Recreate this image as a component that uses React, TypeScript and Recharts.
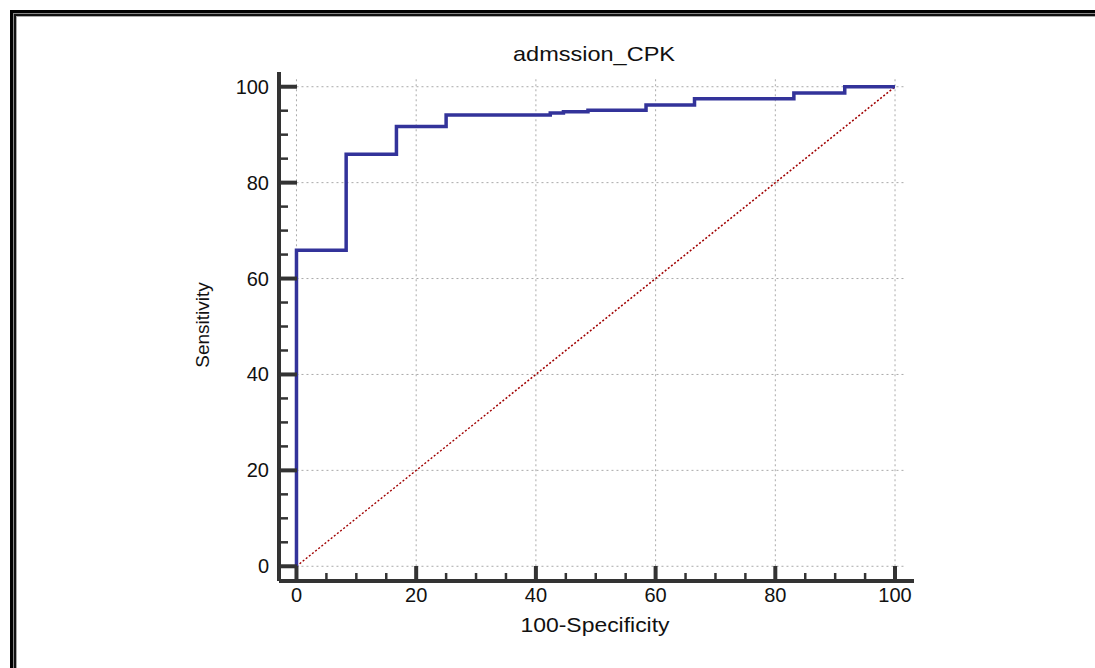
import { LineChart, Line, XAxis, YAxis, ReferenceLine } from 'recharts';

// ROC curve corners (100-Specificity, Sensitivity)
const rocFpr = [0, 0, 8.3, 16.7, 25, 42.4, 44.6, 48.7, 58.4, 66.5, 83.1, 91.6, 100];
const rocSens = [0, 65.9, 85.9, 91.7, 94.1, 94.5, 94.8, 95.1, 96.2, 97.5, 98.7, 100, 100];
const diagFpr = [0, 100];
const diagSens = [0, 100];
const tickValues = [0, 5, 10, 15, 20, 25, 30, 35, 40, 45, 50, 55, 60, 65, 70, 75, 80, 85, 90, 95, 100];
const gridValues = [0, 20, 40, 60, 80, 100];

const rocData = rocFpr.map((x, i) => ({ x, y: rocSens[i] }));
const diagData = diagFpr.map((x, i) => ({ x, y: diagSens[i] }));

const FONT = '"Liberation Sans", Arial, sans-serif';
const AXIS = '#333';

const XTick = (props: any) => {
  const { x, y, payload } = props;
  const major = payload.value % 20 === 0;
  return (
    <g>
      <line x1={x} x2={x} y1={y} y2={y - (major ? 15 : 8)} stroke={AXIS} strokeWidth={major ? 4 : 2.5} />
      {major && (
        <text x={x} y={y + 21} textAnchor="middle" fontSize={20} fontFamily={FONT} fill="#111">
          {payload.value}
        </text>
      )}
    </g>
  );
};

const YTick = (props: any) => {
  const { x, y, payload } = props;
  const major = payload.value % 20 === 0;
  return (
    <g>
      <line x1={x} x2={x + (major ? 18 : 9)} y1={y} y2={y} stroke={AXIS} strokeWidth={major ? 4 : 2.5} />
      {major && (
        <text x={x - 10} y={y} dy="0.35em" textAnchor="end" fontSize={20} fontFamily={FONT} fill="#111">
          {payload.value}
        </text>
      )}
    </g>
  );
};

export default function App() {
  return (
    <div style={{ position: 'absolute', left: 0, top: 0, width: 1095, height: 668, overflow: 'hidden', background: '#fff' }}>
      <div
        style={{
          position: 'absolute', left: 10, top: 10, width: 1110, height: 700, boxSizing: 'border-box',
          border: '3px solid #000',
          boxShadow: 'inset 0 0 0 1px #888, inset 0 0 0 3px #111, inset 0 0 0 4px #aaa',
        }}
      />
      <div style={{ position: 'absolute', left: 0, top: 0 }}>
        <LineChart width={1095} height={668} data={rocData} margin={{ top: 72, right: 181, bottom: 57, left: 219 }}>
          <XAxis
            type="number" dataKey="x" domain={[-2.92, 103.17]} ticks={tickValues} interval={0}
            height={30} tickSize={0} tickMargin={0} tickLine={false} tick={XTick}
            axisLine={{ stroke: AXIS, strokeWidth: 4 }} allowDataOverflow
          />
          <YAxis
            type="number" dataKey="y" domain={[-3.07, 103.07]} ticks={tickValues} interval={0}
            width={60} tickSize={0} tickMargin={0} tickLine={false} tick={YTick}
            axisLine={{ stroke: AXIS, strokeWidth: 4 }} allowDataOverflow
          />
          {gridValues.map((v) => (
            <ReferenceLine key={`h${v}`} segment={[{ x: 0, y: v }, { x: 101.9, y: v }]} stroke="#aaa" strokeWidth={1} strokeDasharray="2 3" ifOverflow="visible" />
          ))}
          {gridValues.map((v) => (
            <ReferenceLine key={`v${v}`} segment={[{ x: v, y: 0 }, { x: v, y: 101.8 }]} stroke="#aaa" strokeWidth={1} strokeDasharray="2 3" ifOverflow="visible" />
          ))}
          <Line data={diagData} dataKey="y" type="linear" stroke="#a00000" strokeWidth={1.5} strokeDasharray="2 2" dot={false} isAnimationActive={false} />
          <Line data={rocData} dataKey="y" type="stepAfter" stroke="#33339a" strokeWidth={3.5} dot={false} isAnimationActive={false} />
        </LineChart>
      </div>
      <svg width={1095} height={668} style={{ position: 'absolute', left: 0, top: 0, pointerEvents: 'none' }}>
        <text x={594} y={61} textAnchor="middle" fontSize={21} fontFamily={FONT} fill="#111" textLength={162} lengthAdjust="spacingAndGlyphs">
          admssion_CPK
        </text>
        <text x={595} y={632} textAnchor="middle" fontSize={20} fontFamily={FONT} fill="#111" textLength={149} lengthAdjust="spacingAndGlyphs">
          100-Specificity
        </text>
        <text x={209} y={325} textAnchor="middle" fontSize={19} fontFamily={FONT} fill="#111" transform="rotate(-90 209 325)">
          Sensitivity
        </text>
      </svg>
    </div>
  );
}
